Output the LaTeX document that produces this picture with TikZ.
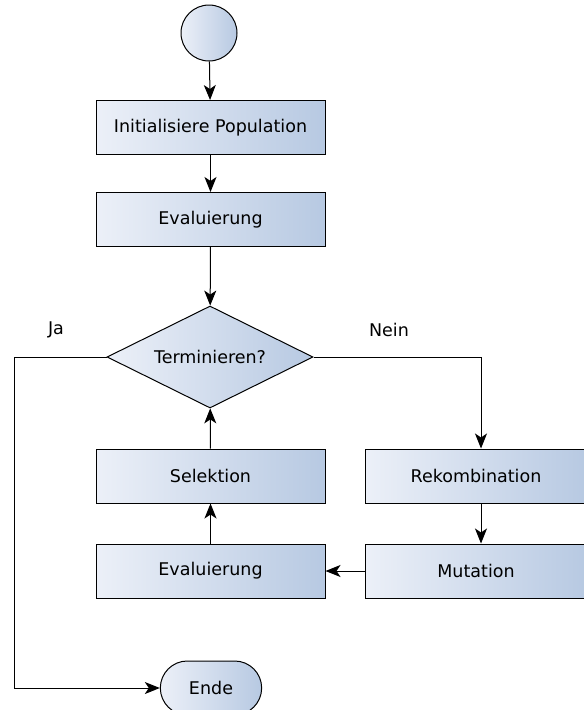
\documentclass[tikz,border=0pt]{standalone}
\usepackage{fontspec}
\setmainfont{DejaVu Sans}
\usetikzlibrary{arrows.meta,shapes.geometric,shapes.misc}
\definecolor{fillL}{RGB}{236,240,248}
\definecolor{fillR}{RGB}{183,201,226}
\begin{document}
\begin{tikzpicture}[x=1pt, y=-1pt,
        block/.style={draw, line width=1pt, left color=fillL, right color=fillR, minimum width=229pt, minimum height=54pt, font=\fontsize{17.5}{20}\selectfont},
        arr/.style={-{Stealth[length=15pt, width=12pt, inset=4pt]}, line width=1pt}]
        \useasboundingbox (0,0) rectangle (584,710);
        \node[draw, circle, line width=1pt, left color=fillL, right color=fillR, minimum size=56pt, inner sep=0pt] (start) at (209,33) {};
        
        \node[block] (init) at (210.5,127.5) {Initialisiere Population};
        \node[block] (eval) at (210.5,219.5) {Evaluierung};
        
        \node[draw, diamond, aspect=2, line width=1pt, left color=fillL, right color=fillR, minimum width=206pt, minimum height=102pt, inner sep=0pt, font=\fontsize{17.5}{20}\selectfont] (term) at (210,357) {Terminieren?};
        
        \node[block] (sel) at (210.5,476) {Selektion};
        \node[block] (eval2) at (210.5,571) {Evaluierung};
        \node[block, minimum width=222pt] (rekomb) at (476,476) {Rekombination};
        \node[block, minimum width=222pt] (mut) at (476,571) {Mutation};
        
        \node[draw, rounded rectangle, line width=1pt, left color=fillL, right color=fillR, minimum width=108pt, minimum height=54pt, font=\fontsize{17.5}{20}\selectfont] (ende) at (211,688) {Ende};
        
        \node[font=\fontsize{17.5}{20}\selectfont] (ja) at (56,330) {Ja};
        \node[font=\fontsize{17.5}{20}\selectfont] (nein) at (389,330) {Nein};
        
        \coordinate (jaknick) at (14,357);
        \coordinate (endeknick) at (14,688);
        \coordinate (neinknick) at (481,357);
        
        \draw[arr] (start) -- (init);
        \draw[arr] (init) -- (eval);
        \draw[arr] (eval) -- (term);
        \draw[arr] (term.west) -- (jaknick) -- (endeknick) -- (ende.west);
        \draw[arr] (term.east) -- (neinknick) -- (neinknick |- rekomb.north);
        \draw[arr] (rekomb.south -| neinknick) -- (mut.north -| neinknick);
        \draw[arr] (mut) -- (eval2);
        \draw[arr] (eval2) -- (sel);
        \draw[arr] (sel) -- (term);
    \end{tikzpicture}
\end{document}
